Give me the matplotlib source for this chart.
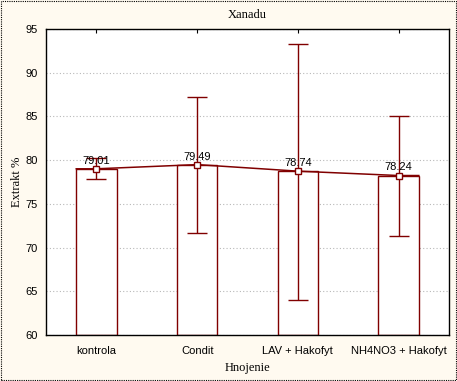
import matplotlib
matplotlib.use("Agg")
import matplotlib.pyplot as plt
from matplotlib.patches import Rectangle

# data
categories = ["kontrola", "Condit", "LAV + Hakofyt", "NH4NO3 + Hakofyt"]
means = [79.01, 79.49, 78.74, 78.24]
err_low = [77.8, 71.7, 64.0, 71.3]
err_high = [80.2, 87.2, 93.3, 85.1]
yticks = [60, 65, 70, 75, 80, 85, 90, 95]

dark_red = "#800000"
cream = "#FFFAF0"

fig = plt.figure(figsize=(4.57, 3.81), dpi=100, facecolor=cream)
ax = fig.add_axes([46 / 457, 46 / 381, 403 / 457, 306 / 381])
ax.set_facecolor("white")

x = list(range(len(categories)))
width = 0.4

ax.bar(x, [m - 60 for m in means], width=width, bottom=60,
       color="white", edgecolor=dark_red, linewidth=1.0, zorder=2)

# line through the means, running across the outer bar edges
lx = [x[0] - width / 2] + x + [x[-1] + width / 2]
ly = [means[0]] + means + [means[-1]]
ax.plot(lx, ly, color=dark_red, lw=1.1, zorder=3)

yerr = [[m - lo for m, lo in zip(means, err_low)],
        [hi - m for m, hi in zip(means, err_high)]]
ax.errorbar(x, means, yerr=yerr, fmt="s", ms=4, mfc="white", mec=dark_red,
            mew=1.0, ecolor=dark_red, elinewidth=1.0, capsize=7,
            capthick=1.0, zorder=4)

for xi, m in zip(x, means):
    ax.text(xi, m + 0.35, f"{m:.2f}", ha="center", va="bottom",
            fontsize=8, family="Liberation Sans", zorder=5)

ax.set_xlim(-0.5, 3.5)
ax.set_ylim(60, 95)
ax.set_yticks(yticks)
ax.set_xticks(x)
ax.set_xticklabels(categories, family="Liberation Sans", fontsize=8)
for lab in ax.get_yticklabels():
    lab.set_family("Liberation Sans")
    lab.set_fontsize(8)
ax.tick_params(axis="y", length=0, pad=6)
ax.tick_params(axis="x", direction="in", length=3, top=True, pad=8)
ax.grid(axis="y", color="#b8b8b8", linestyle=(0, (1, 2)), lw=0.8, zorder=0)

for s in ax.spines.values():
    s.set_color("black")
    s.set_linewidth(1.0)

ax.set_title("Xanadu", family="Liberation Serif", fontsize=9, pad=8)
ax.set_xlabel("Hnojenie", family="Liberation Serif", fontsize=9, labelpad=4)
ax.set_ylabel("Extrakt %", family="Liberation Serif", fontsize=9, labelpad=2)

# dotted frame round the whole figure
fig.patches.append(Rectangle((0.002, 0.003), 0.996, 0.994, transform=fig.transFigure,
                             fill=False, edgecolor="black", lw=0.8,
                             linestyle=(0, (1, 1))))

fig.savefig("out.png", dpi=100, facecolor=cream)
